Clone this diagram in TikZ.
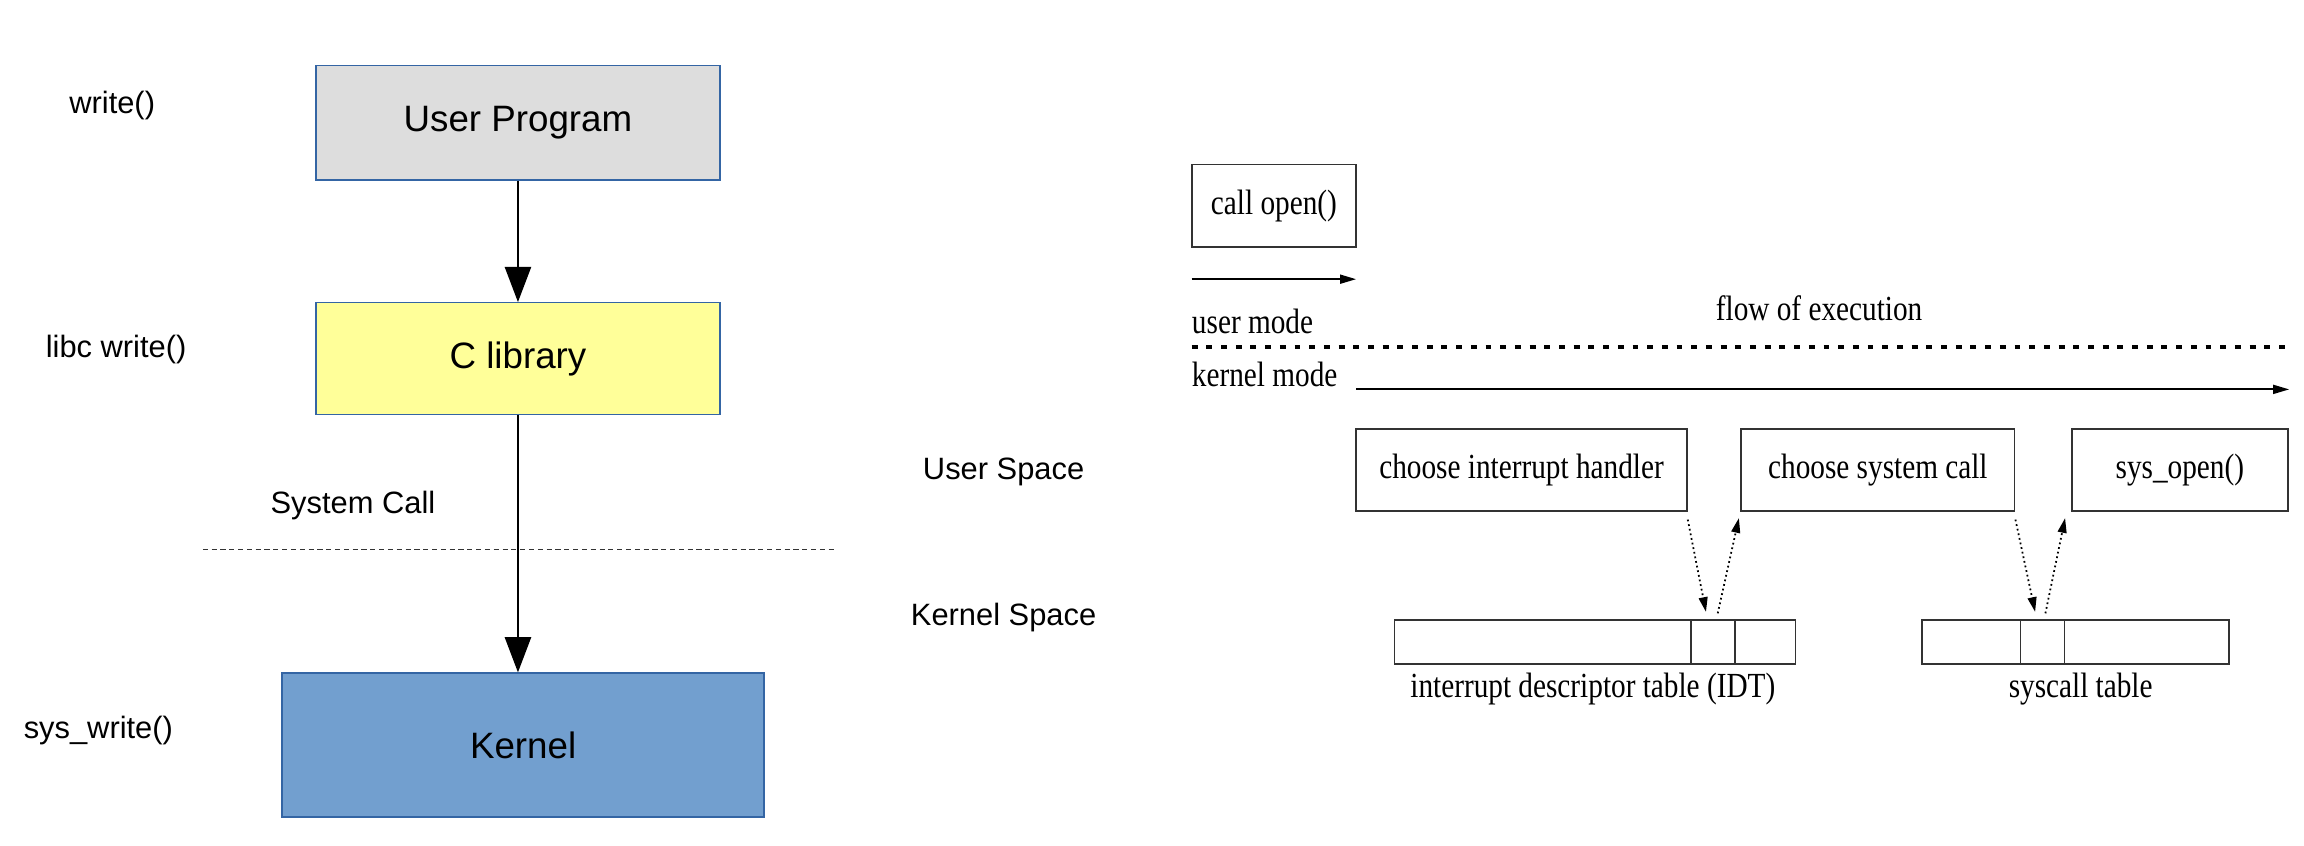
\documentclass[tikz,border=0pt]{standalone}
\usepackage{fontspec}
\setmainfont{Liberation Sans}
\newfontfamily\serifc{Liberation Serif}[FakeStretch=0.83]
\usetikzlibrary{arrows.meta}
\definecolor{bordercol}{RGB}{52,101,164}
\definecolor{usercol}{RGB}{221,221,221}
\definecolor{libcol}{RGB}{255,255,153}
\definecolor{kerncol}{RGB}{114,159,207}
\tikzset{every picture/.style={x=1pt,y=-1pt}}
\tikzset{layer/.style={draw=bordercol,line width=0.9pt,inner sep=0pt,font=\fontsize{25}{30}\selectfont}}
\tikzset{side/.style={inner sep=0pt,font=\fontsize{21}{25}\selectfont}}
\tikzset{flow/.style={-{Triangle[length=24pt,width=18pt]},line width=0.9pt}}
\tikzset{boundary/.style={dash pattern=on 3.5pt off 2.5pt,line width=0.7pt,black!80}}
\tikzset{stage/.style={draw=black!80,line width=1.2pt,inner sep=0pt,font=\serifc\fontsize{24}{28}\selectfont}}
\tikzset{note/.style={inner sep=0pt,font=\serifc\fontsize{24}{28}\selectfont}}
\tikzset{exec/.style={-{Triangle[length=11pt,width=6pt]},line width=1.5pt}}
\tikzset{modeline/.style={dash pattern=on 4pt off 6pt,line width=2.7pt}}
\tikzset{lookup/.style={-{Triangle[length=10pt,width=6pt]},dotted,line width=1.2pt}}
\tikzset{slot/.style={draw=black!80,line width=1.2pt,inner sep=0pt}}

\begin{document}
\begin{tikzpicture}
\useasboundingbox (0,0) rectangle (1568,575.7);

\node [layer,fill=usercol,minimum width=275pt,minimum height=78pt] (prog) at (352.5,83.5) {User Program};
\node [layer,fill=libcol,minimum width=275pt,minimum height=76pt] (libc) at (352.5,244) {C library};
\node [layer,fill=kerncol,minimum width=328pt,minimum height=98pt] (kern) at (356,507) {Kernel};

\node [side,anchor=west] (wr) at (47,72) {write()};
\node [side,anchor=west] (lwr) at (31,238) {libc write()};
\node [side,anchor=west] (sc) at (184,344) {System Call};
\node [side,anchor=west] (swr) at (16,497) {sys\_write()};

\draw [flow] (prog) -- (libc);
\draw [flow] (libc.south) -- (libc.south |- kern.north);

\coordinate (cut1) at (138,374);
\coordinate (cut2) at (568,374);
\draw [boundary] (cut1) -- (cut2);

\node [side] (us) at (683,321) {User Space};
\node [side] (ks) at (683,420) {Kernel Space};

\node [stage,minimum width=112pt,minimum height=56pt] (call) at (867,140) {call open()};
\coordinate (e1) at (811,190);
\coordinate (e2) at (923,190);
\draw [exec] (e1) -- (e2);

\node [note,anchor=west] (um) at (811,219) {user mode};
\node [note] (fl) at (1238,210) {flow of execution};
\coordinate (m1) at (811,236);
\coordinate (m2) at (1558,236);
\draw [modeline] (m1) -- (m2);
\node [note,anchor=west] (km) at (811,255) {kernel mode};
\coordinate (e3) at (923,265);
\coordinate (e4) at (1558,265);
\draw [exec] (e3) -- (e4);

\node [stage,minimum width=225pt,minimum height=56pt] (irq) at (1035.5,320) {choose interrupt handler};
\node [stage,minimum width=186pt,minimum height=56pt] (sys) at (1278,320) {choose system call};
\node [stage,minimum width=147pt,minimum height=56pt] (open) at (1483.5,320) {sys\_open()};

\node [slot,minimum width=273pt,minimum height=30pt] (idt) at (1085.5,437) {};
\node [slot,minimum width=30pt,minimum height=30pt] (idtcell) at (1166,437) {};
\node [note] (idtlab) at (1084,469) {interrupt descriptor table (IDT)};

\node [slot,minimum width=209pt,minimum height=30pt] (sct) at (1412.5,437) {};
\node [slot,minimum width=30pt,minimum height=30pt] (sctcell) at (1390,437) {};
\node [note] (sctlab) at (1416,469) {syscall table};

\draw [lookup] ([yshift=-5pt]irq.south east) -- ([xshift=-5pt,yshift=5pt]idtcell.north);
\draw [lookup] ([xshift=3pt,yshift=4pt]idtcell.north) -- ([xshift=-1pt,yshift=-4pt]sys.south west);
\draw [lookup] ([yshift=-5pt]sys.south east) -- ([xshift=-5pt,yshift=5pt]sctcell.north);
\draw [lookup] ([xshift=2pt,yshift=4pt]sctcell.north) -- ([xshift=-4pt,yshift=-4pt]open.south west);
\end{tikzpicture}
\end{document}
